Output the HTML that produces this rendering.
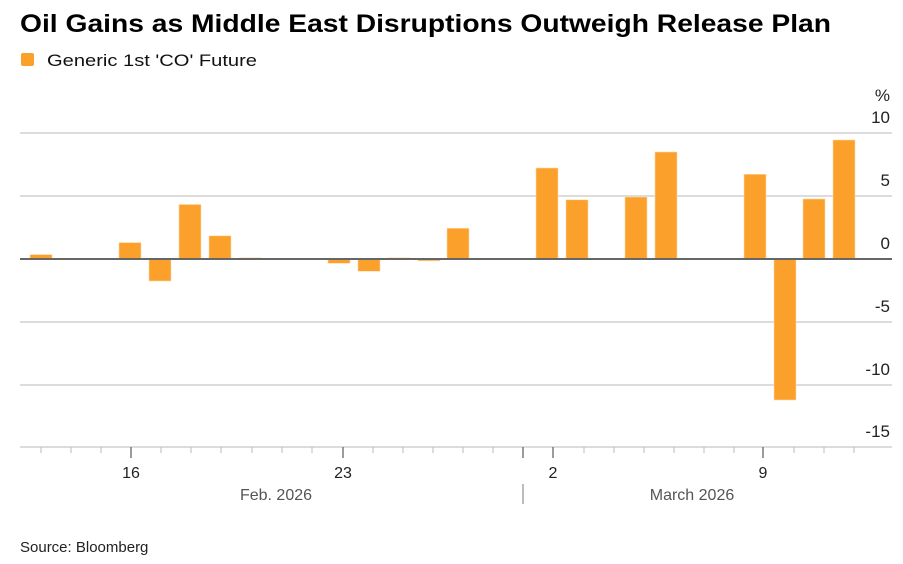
<!DOCTYPE html>
<html><head><meta charset="utf-8"><style>
html,body{margin:0;padding:0;background:#fff;}
svg{display:block;font-family:"Liberation Sans",Arial,sans-serif;}
</style></head><body>
<svg width="903" height="564" viewBox="0 0 903 564" xmlns="http://www.w3.org/2000/svg">
<text x="20" y="32" font-size="25" font-weight="bold" fill="#000" textLength="811" lengthAdjust="spacingAndGlyphs">Oil Gains as Middle East Disruptions Outweigh Release Plan</text>
<rect x="21" y="53" width="13" height="13" rx="2" fill="#fba02a"/>
<text x="47" y="66" font-size="17" fill="#111" textLength="210" lengthAdjust="spacingAndGlyphs">Generic 1st 'CO' Future</text>
<g stroke="#dcdcdc" stroke-width="2">
<line x1="20" y1="133" x2="892" y2="133"/>
<line x1="20" y1="196" x2="892" y2="196"/>
<line x1="20" y1="322" x2="892" y2="322"/>
<line x1="20" y1="385" x2="892" y2="385"/>
<line x1="20" y1="447" x2="892" y2="447"/>
</g>
<g fill="#fba02a" stroke="#ffd9a8" stroke-width="0.6">
<rect x="30" y="254.6" width="22" height="4.4"/>
<rect x="119" y="242.6" width="22" height="16.4"/>
<rect x="149" y="259" width="22" height="22"/>
<rect x="179" y="204.5" width="22" height="54.5"/>
<rect x="209" y="235.8" width="22" height="23.2"/>
<rect x="239" y="257.8" width="22" height="1.2"/>
<rect x="328" y="259" width="22" height="4.3"/>
<rect x="358" y="259" width="22" height="12.3"/>
<rect x="388" y="257.8" width="22" height="1.2"/>
<rect x="418" y="259" width="22" height="1.8"/>
<rect x="447" y="228.3" width="22" height="30.7"/>
<rect x="536" y="168" width="22" height="91"/>
<rect x="566" y="199.8" width="22" height="59.2"/>
<rect x="625" y="197" width="22" height="62"/>
<rect x="655" y="152" width="22" height="107"/>
<rect x="744" y="174.3" width="22" height="84.7"/>
<rect x="774" y="259" width="22" height="141"/>
<rect x="803" y="199" width="22" height="60"/>
<rect x="833" y="140" width="22" height="119"/>
</g>
<line x1="20" y1="259" x2="892" y2="259" stroke="#666" stroke-width="2"/>
<g font-size="17" fill="#222" text-anchor="end">
<text x="890" y="101">%</text>
<text x="890" y="123">10</text>
<text x="890" y="186">5</text>
<text x="890" y="249">0</text>
<text x="890" y="312">-5</text>
<text x="890" y="375">-10</text>
<text x="890" y="437">-15</text>
</g>
<g stroke="#bbb" stroke-width="1">
<line x1="41" y1="447" x2="41" y2="453"/><line x1="71" y1="447" x2="71" y2="453"/><line x1="101" y1="447" x2="101" y2="453"/>
<line x1="161" y1="447" x2="161" y2="453"/><line x1="191" y1="447" x2="191" y2="453"/><line x1="221" y1="447" x2="221" y2="453"/><line x1="252" y1="447" x2="252" y2="453"/><line x1="282" y1="447" x2="282" y2="453"/><line x1="312" y1="447" x2="312" y2="453"/>
<line x1="373" y1="447" x2="373" y2="453"/><line x1="403" y1="447" x2="403" y2="453"/><line x1="433" y1="447" x2="433" y2="453"/><line x1="463" y1="447" x2="463" y2="453"/><line x1="493" y1="447" x2="493" y2="453"/>
<line x1="584" y1="447" x2="584" y2="453"/><line x1="614" y1="447" x2="614" y2="453"/><line x1="644" y1="447" x2="644" y2="453"/><line x1="674" y1="447" x2="674" y2="453"/><line x1="704" y1="447" x2="704" y2="453"/><line x1="734" y1="447" x2="734" y2="453"/>
<line x1="794" y1="447" x2="794" y2="453"/><line x1="824" y1="447" x2="824" y2="453"/><line x1="854" y1="447" x2="854" y2="453"/>
</g>
<g stroke="#666" stroke-width="1.3">
<line x1="131" y1="447" x2="131" y2="458"/><line x1="343" y1="447" x2="343" y2="458"/>
<line x1="523" y1="447" x2="523" y2="458"/>
<line x1="553" y1="447" x2="553" y2="458"/><line x1="763" y1="447" x2="763" y2="458"/>
<line x1="523" y1="484" x2="523" y2="504" stroke="#999"/>
</g>
<g font-size="16" fill="#222" text-anchor="middle">
<text x="131" y="478">16</text>
<text x="343" y="478">23</text>
<text x="553" y="478">2</text>
<text x="763" y="478">9</text>
</g>
<g font-size="16" fill="#555" text-anchor="middle">
<text x="276" y="500">Feb. 2026</text>
<text x="692" y="500">March 2026</text>
</g>
<text x="20" y="552" font-size="15" fill="#222">Source: Bloomberg</text>
</svg>
</body></html>
